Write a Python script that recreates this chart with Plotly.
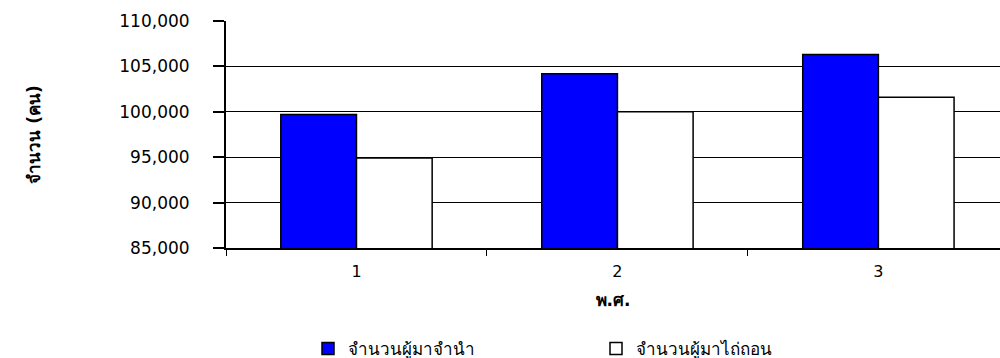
import plotly.graph_objects as go

# Years (พ.ศ.) shown as sequence numbers on the category axis
categories = ["1", "2", "3"]
pawned = [99700, 104200, 106300]      # จำนวนผู้มาจำนำ
redeemed = [94900, 100000, 101600]    # จำนวนผู้มาไถ่ถอน

y_ticks = [85000, 90000, 95000, 100000, 105000, 110000]

FONT = "DejaVu Sans"

fig = go.Figure()
fig.add_trace(go.Bar(
    x=categories, y=pawned, name="จำนวนผู้มาจำนำ",
    marker=dict(color="#0000FF", line=dict(color="#000000", width=1.5)),
))
fig.add_trace(go.Bar(
    x=categories, y=redeemed, name="จำนวนผู้มาไถ่ถอน",
    marker=dict(color="#FFFFFF", line=dict(color="#000000", width=1.5)),
))

fig.update_layout(
    width=1000, height=358,
    margin=dict(l=226, r=0, t=21, b=110),
    paper_bgcolor="white", plot_bgcolor="white",
    barmode="group", bargap=0.42, bargroupgap=0,
    font=dict(family=FONT, size=16, color="#000000"),
    showlegend=True,
    legend=dict(
        orientation="h",
        x=0.308, xref="container", xanchor="left",
        y=0.025, yref="container", yanchor="middle",
        font=dict(family=FONT, size=17, color="#000000"),
        itemwidth=30, traceorder="normal",
        entrywidth=243, entrywidthmode="pixels",
    ),
)

fig.update_xaxes(
    type="category",
    range=[-0.5, 2.466],
    showline=True, linecolor="#000000", linewidth=1.5,
    ticks="outside", tickson="boundaries", ticklen=6, tickcolor="#000000",
    ticklabelstandoff=8,
    tickfont=dict(family=FONT, size=16),
    showgrid=False,
    title=dict(text="<b>พ.ศ.</b>", font=dict(family=FONT, size=17), standoff=14),
)

fig.update_yaxes(
    range=[85000, 110000],
    tickvals=y_ticks,
    tickformat=",",
    showline=True, linecolor="#000000", linewidth=2,
    ticks="outside", ticklen=11, tickcolor="#000000", tickwidth=1.5,
    ticklabelstandoff=20,
    tickfont=dict(family=FONT, size=17),
    showgrid=True, gridcolor="#000000", gridwidth=1,
    zeroline=False,
    title=dict(text="<b>จำนวน (คน)</b>", font=dict(family=FONT, size=17), standoff=74),
)

fig.write_html("out.html")
